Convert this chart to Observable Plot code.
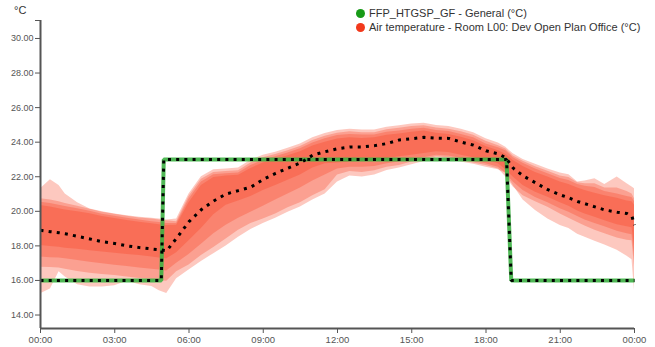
<!DOCTYPE html>
<html><head><meta charset="utf-8">
<script src="https://cdn.jsdelivr.net/npm/d3@7"></script>
<script src="https://cdn.jsdelivr.net/npm/@observablehq/plot@0.6"></script>
<style>
body{margin:0;background:#fff;font-family:"Liberation Sans",Arial,sans-serif;}
#wrap{position:relative;width:655px;height:347px;}
#wrap svg{display:block;}
#legend{position:absolute;left:356px;top:6px;font-size:11px;color:#333;line-height:14px;white-space:nowrap;}
.item{display:flex;align-items:center;height:14px;}
.sw{width:9px;height:9px;border-radius:50%;margin-right:4px;display:inline-block;}
#unit{position:absolute;left:14px;top:4px;font-size:11px;color:#333;}
</style></head>
<body>
<div id="wrap">
  <div id="unit">°C</div>
  <div id="legend">
    <div class="item"><span class="sw" style="background:#179a17"></span>FFP_HTGSP_GF - General (°C)</div>
    <div class="item"><span class="sw" style="background:#f2391c"></span>Air temperature - Room L00: Dev Open Plan Office (°C)</div>
  </div>
</div>
<script>
// time of day, hours
const hours = [0,0.4,0.75,1,1.5,2,2.5,3,3.5,4,4.5,4.8,5.1,5.5,6,6.5,7,7.5,8,8.5,9,9.5,10,10.5,11,11.5,12,12.5,13,13.5,14,14.5,15,15.5,16,16.5,17,17.5,18,18.5,18.8,19.1,19.5,20,20.5,21,21.35,21.7,22,22.4,22.8,23.3,23.7,23.9,24];

// air temperature – mean
const meanTemp = [18.9,18.82,18.76,18.7,18.55,18.4,18.24,18.14,18.0,17.9,17.82,17.78,17.72,18.45,19.4,20.1,20.6,21.0,21.2,21.4,21.85,22.2,22.5,22.8,23.25,23.45,23.62,23.72,23.72,23.8,23.92,24.13,24.2,24.28,24.23,24.22,24.0,23.83,23.5,23.32,23.1,22.5,22.05,21.65,21.25,20.95,20.78,20.57,20.44,20.26,20.08,19.95,19.87,19.7,19.2];

// outer band (lightest)
const outerHigh = [21.3,21.82,21.5,21.0,20.5,20.14,19.98,19.85,19.74,19.66,19.6,19.55,19.5,19.55,21.0,22.0,22.4,22.45,22.5,22.95,23.25,23.42,23.65,23.9,24.25,24.5,24.68,24.75,24.7,24.7,24.87,24.95,25.05,25.1,24.96,24.9,24.75,24.55,24.2,23.95,23.7,23.33,23.0,22.72,22.45,22.22,22.11,21.69,21.75,21.88,21.55,21.98,21.6,21.4,21.3];
const outerLow = [15.23,15.5,16.5,16.2,15.75,15.62,15.62,15.7,15.95,15.75,15.65,15.4,15.25,16.1,16.6,17.1,17.55,18.0,18.5,18.95,19.3,19.6,19.95,20.25,20.65,21.0,21.7,22.05,21.98,22.1,22.36,22.5,22.7,22.88,23.08,23.05,22.85,22.72,22.55,22.4,22.2,21.5,20.65,20.05,19.55,19.18,19.0,18.68,18.5,18.27,18.05,17.75,17.4,17.2,15.4];

// second band
const band2High = [20.72,20.65,20.55,20.45,20.3,20.12,19.95,19.83,19.72,19.62,19.55,19.5,19.45,19.4,20.85,21.85,22.25,22.3,22.35,22.8,23.1,23.28,23.5,23.75,24.1,24.35,24.52,24.6,24.55,24.55,24.72,24.8,24.9,24.95,24.82,24.75,24.6,24.4,24.05,23.8,23.6,23.2,22.9,22.58,22.32,22.05,21.95,21.65,21.6,21.6,21.35,21.35,21.15,21.0,20.72];
const band2Low = [16.77,16.75,16.72,16.65,16.52,16.42,16.35,16.28,16.2,16.12,16.05,16.0,15.95,16.5,16.9,17.45,17.9,18.4,18.9,19.3,19.55,19.85,20.2,20.5,20.9,21.25,22.1,22.3,22.25,22.35,22.55,22.65,22.85,22.98,23.15,23.1,22.95,22.8,22.65,22.45,22.0,21.4,20.9,20.55,20.24,19.85,19.6,19.35,19.15,18.9,18.7,18.45,18.33,18.3,16.8];

// third band
const band3High = [20.53,20.45,20.35,20.28,20.15,20.0,19.83,19.72,19.6,19.5,19.4,19.35,19.3,19.3,20.7,21.7,22.12,22.18,22.22,22.65,22.95,23.15,23.38,23.62,23.95,24.2,24.38,24.45,24.42,24.42,24.58,24.65,24.75,24.8,24.68,24.62,24.45,24.25,23.9,23.68,23.5,23.1,22.78,22.45,22.18,21.9,21.78,21.55,21.45,21.38,21.15,21.0,20.85,20.8,20.55];
const band3Low = [17.35,17.32,17.3,17.25,17.15,17.05,16.96,16.88,16.8,16.72,16.65,16.6,16.55,17.0,17.5,18.1,18.7,19.2,19.6,19.95,20.3,20.65,21.0,21.35,21.75,22.1,22.45,22.55,22.55,22.6,22.75,22.85,23.0,23.1,23.25,23.2,23.05,22.9,22.75,22.55,22.2,21.7,21.2,20.8,20.5,20.15,19.95,19.7,19.5,19.3,19.1,18.85,18.7,18.65,17.35];

// inner band (darkest)
const innerHigh = [20.34,20.25,20.15,20.08,19.98,19.86,19.7,19.58,19.47,19.37,19.28,19.22,19.18,19.2,20.5,21.5,21.95,22.05,22.08,22.48,22.8,23.0,23.22,23.45,23.78,24.0,24.18,24.25,24.22,24.25,24.4,24.48,24.58,24.65,24.52,24.45,24.28,24.08,23.75,23.5,23.3,22.94,22.6,22.25,21.98,21.7,21.55,21.35,21.2,21.05,20.9,20.75,20.6,20.55,20.35];
const innerLow = [18.02,17.97,17.92,17.87,17.8,17.72,17.65,17.58,17.5,17.44,17.36,17.3,17.25,17.6,18.3,19.0,19.8,20.35,20.6,20.85,21.2,21.5,21.8,22.1,22.5,22.75,22.8,22.85,22.9,22.95,23.05,23.15,23.25,23.35,23.45,23.4,23.25,23.1,22.95,22.75,22.4,21.98,21.5,21.1,20.82,20.5,20.3,20.02,19.85,19.65,19.45,19.22,19.1,19.05,18.0];

// heating setpoint
const spHours = [0,4.88,4.98,18.83,19.02,24];
const spValues = [16,16,23,23,16,16];

const yTicks = [14,16,18,20,22,24,26,28,30];
const xTicks = [0,3,6,9,12,15,18,21,24];
const yMin = 13.22, yMax = 31.04;

const rows = hours.map((t,i)=>({t, mean:meanTemp[i], oh:outerHigh[i], ol:outerLow[i], b2h:band2High[i], b2l:band2Low[i], b3h:band3High[i], b3l:band3Low[i], ih:innerHigh[i], il:innerLow[i]}));
const sp = spHours.map((t,i)=>({t, v:spValues[i]}));

const RED = "#f8391a";
const OP = 0.28;
const hh = h => String(h % 24).padStart(2,"0") + ":00";
const dots = {stroke:"#000", strokeWidth:3, strokeDasharray:"3,5.2", strokeLinecap:"butt", strokeLinejoin:"miter"};

const chart = Plot.plot({
  width:655, height:347,
  marginLeft:40, marginRight:21, marginTop:20, marginBottom:19,
  x:{domain:[0,24]},
  y:{domain:[yMin,yMax]},
  style:{fontFamily:"'Liberation Sans', Arial, sans-serif", color:"#555", background:"transparent"},
  marks:[
    Plot.areaY(rows,{x:"t", y1:"ol", y2:"oh", fill:RED, fillOpacity:OP}),
    Plot.areaY(rows,{x:"t", y1:"b2l", y2:"b2h", fill:RED, fillOpacity:OP}),
    Plot.areaY(rows,{x:"t", y1:"b3l", y2:"b3h", fill:RED, fillOpacity:OP}),
    Plot.areaY(rows,{x:"t", y1:"il", y2:"ih", fill:RED, fillOpacity:OP}),
    Plot.line(sp,{x:"t", y:"v", stroke:"#3cb043", strokeWidth:4, strokeOpacity:0.9, strokeLinecap:"butt", strokeLinejoin:"miter"}),
    Plot.line(sp,{x:"t", y:"v", ...dots}),
    Plot.line(rows,{x:"t", y:"mean", ...dots}),
    Plot.ruleX([0],{stroke:"#555", strokeWidth:2}),
    Plot.ruleY([yMin],{stroke:"#555", strokeWidth:2}),
    Plot.axisY({ticks:yTicks, tickFormat:d3.format(".2f"), tickSize:5, tickPadding:2, fontSize:9, label:null}),
    Plot.axisY({ticks:[yMax], tickFormat:()=>"", tickSize:5, label:null}),
    Plot.axisX({ticks:xTicks, tickFormat:hh, tickSize:5, tickPadding:3, fontSize:9.5, label:null})
  ]
});
document.getElementById("wrap").appendChild(chart);
</script>
</body></html>
